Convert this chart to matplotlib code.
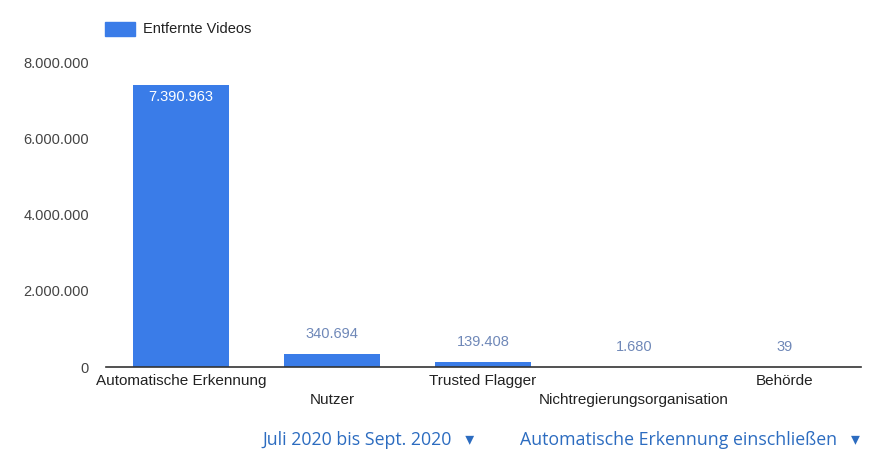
import matplotlib.pyplot as plt
from matplotlib.ticker import FuncFormatter
from matplotlib.patches import Rectangle

plt.rcParams["font.family"] = ["Liberation Sans", "DejaVu Sans"]

# Entfernte Videos nach Erstmeldenden, Juli bis Sept. 2020
categories = ["Automatische Erkennung", "Nutzer", "Trusted Flagger",
              "Nichtregierungsorganisation", "Behörde"]
removed_videos = [7390963, 340694, 139408, 1680, 39]
y_ticks = [0, 2000000, 4000000, 6000000, 8000000]

BAR_COLOR = "#3a7ce8"
LABEL_COLOR = "#6f88b8"
LINK_COLOR = "#2c6cc0"


def de_format(v, pos=None):
    return f"{int(v):,}".replace(",", ".")


fig = plt.figure(figsize=(8.75, 4.54), dpi=100)
ax = fig.add_axes([0.1206, 0.1916, 0.8629, 0.6718])

x = list(range(len(categories)))
ax.bar(x, removed_videos, width=0.63, color=BAR_COLOR)

ax.set_xlim(-0.5, len(categories) - 0.5)
ax.set_ylim(0, 8000000)
ax.set_yticks(y_ticks)
ax.yaxis.set_major_formatter(FuncFormatter(de_format))
ax.tick_params(axis="y", length=0, pad=12, labelsize=10.5, labelcolor="#444444")
ax.set_xticks([])

for side in ["top", "right", "left"]:
    ax.spines[side].set_visible(False)
ax.spines["bottom"].set_color("#333333")
ax.spines["bottom"].set_linewidth(1.2)

# Wertebeschriftungen: großer Balken innen, kleine darüber
for i, v in enumerate(removed_videos):
    if v > 1000000:
        ax.annotate(de_format(v), xy=(i, v), xytext=(0, -8.5), textcoords="offset points",
                    ha="center", va="center", color="white", fontsize=10.5)
    else:
        ax.annotate(de_format(v), xy=(i, v), xytext=(0, 14.5), textcoords="offset points",
                    ha="center", va="center", color=LABEL_COLOR, fontsize=10.5)

# Kategorien abwechselnd in zwei Zeilen
for i, name in enumerate(categories):
    offset = -10 if i % 2 == 0 else -24
    ax.annotate(name, xy=(i, 0), xycoords=("data", "axes fraction"),
                xytext=(0, offset), textcoords="offset points",
                ha="center", va="center", color="#222222", fontsize=11)

# Legende
fig.patches.append(Rectangle((105 / 875, 1 - 36 / 454), 30 / 875, 14 / 454,
                             transform=fig.transFigure, color=BAR_COLOR))
fig.text(143 / 875, 1 - 29 / 454, "Entfernte Videos", ha="left", va="center",
         fontsize=10.5, color="#222222")

# Auswahlfelder unten
fig.text(262 / 875, 1 - 440 / 454, "Juli 2020 bis Sept. 2020   ▾", ha="left", va="center",
         fontsize=12.8, color=LINK_COLOR, family=["Open Sans", "DejaVu Sans"])
fig.text(520 / 875, 1 - 440 / 454, "Automatische Erkennung einschließen   ▾", ha="left",
         va="center", fontsize=12.8, color=LINK_COLOR, family=["Open Sans", "DejaVu Sans"])

fig.savefig("out.png", dpi=100)
